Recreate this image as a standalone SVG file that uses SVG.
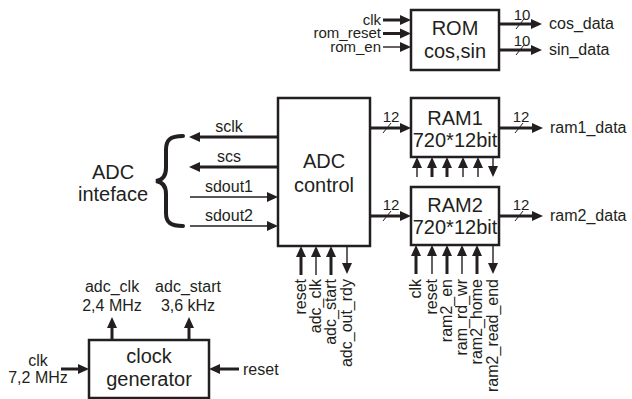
<svg xmlns="http://www.w3.org/2000/svg" width="632" height="399" viewBox="0 0 632 399">
<style>
text{font-family:"Liberation Sans",Arial,sans-serif;fill:#231f20}
.big{font-size:20px;text-anchor:middle}
.lbl{font-size:16px}
.sm{font-size:15px}
.mid{text-anchor:middle}
.end{text-anchor:end}
.bus{font-size:15px;text-anchor:middle}
.box{fill:#fff;stroke:#231f20;stroke-width:2.5}
.thick{stroke:#231f20;stroke-width:3;fill:none}
.thin{stroke:#231f20;stroke-width:1.4;fill:none}
.sl{stroke:#231f20;stroke-width:1;fill:none}
</style>
<defs>
<marker id="ah" markerUnits="userSpaceOnUse" markerWidth="11" markerHeight="11" refX="5" refY="5" orient="auto" viewBox="0 0 11 10">
<path d="M0,0 L11,5 L0,10 z" fill="#231f20"/>
</marker>
</defs>

<g id="rom">
<rect class="box" x="411" y="10" width="88" height="60"/>
<text class="big" x="455" y="35">ROM</text>
<text class="big" x="455" y="58">cos,sin</text>
</g>

<g id="adc">
<rect class="box" x="278" y="98" width="92" height="148"/>
<text class="big" x="324" y="168">ADC</text>
<text class="big" x="324" y="192">control</text>
</g>

<g id="ram1">
<rect class="box" x="411" y="98" width="88" height="59"/>
<text class="big" x="455" y="125">RAM1</text>
<text class="big" x="455" y="147">720*12bit</text>
</g>

<g id="ram2">
<rect class="box" x="411" y="187" width="88" height="58"/>
<text class="big" x="455" y="212">RAM2</text>
<text class="big" x="455" y="234">720*12bit</text>
</g>

<g id="clockgen">
<rect class="box" x="89" y="340" width="120" height="58"/>
<text class="big" x="149" y="363">clock</text>
<text class="big" x="149" y="386">generator</text>
</g>

<g id="adc-interface">
<text class="big" x="113" y="179">ADC</text>
<text class="big" x="113" y="201">inteface</text>
<path d="M183,136 C170,136 166,140 166,150 L166,168 C166,176 163,180 156,181 C163,182 166,186 166,194 L166,213 C166,222 170,226 183,226" fill="none" stroke="#231f20" stroke-width="4" stroke-linecap="round"/>
</g>

<g id="connectors">
<!-- ROM inputs -->
<line class="thick" x1="383" y1="20" x2="405" y2="20" marker-end="url(#ah)"/>
<line class="thick" x1="383" y1="33.5" x2="405" y2="33.5" marker-end="url(#ah)"/>
<line class="thin" x1="383" y1="47" x2="405" y2="47" marker-end="url(#ah)"/>
<!-- ROM outputs -->
<line class="thick" x1="499" y1="24" x2="536" y2="24" marker-end="url(#ah)"/>
<line class="sl" x1="516" y1="29" x2="524" y2="19"/>
<line class="thick" x1="499" y1="50" x2="536" y2="50" marker-end="url(#ah)"/>
<line class="sl" x1="516" y1="55" x2="524" y2="45"/>
<!-- ADC interface -->
<line class="thick" x1="278" y1="137" x2="195" y2="137" marker-end="url(#ah)"/>
<line class="thick" x1="278" y1="167" x2="195" y2="167" marker-end="url(#ah)"/>
<line class="thin" x1="190" y1="197" x2="272" y2="197" marker-end="url(#ah)"/>
<line class="thin" x1="190" y1="226" x2="272" y2="226" marker-end="url(#ah)"/>
<!-- ADC to RAM -->
<line class="thick" x1="370" y1="128" x2="405" y2="128" marker-end="url(#ah)"/>
<line class="sl" x1="383" y1="133" x2="391" y2="123"/>
<line class="thick" x1="370" y1="216" x2="405" y2="216" marker-end="url(#ah)"/>
<line class="sl" x1="383" y1="221" x2="391" y2="211"/>
<!-- RAM outputs -->
<line class="thick" x1="499" y1="128" x2="537" y2="128" marker-end="url(#ah)"/>
<line class="sl" x1="515" y1="133" x2="523" y2="123"/>
<line class="thick" x1="499" y1="216" x2="537" y2="216" marker-end="url(#ah)"/>
<line class="sl" x1="515" y1="221" x2="523" y2="211"/>
<!-- RAM1 bottom -->
<line class="thin" x1="417" y1="177" x2="417" y2="163" marker-end="url(#ah)"/>
<line class="thick" x1="432" y1="177" x2="432" y2="163" marker-end="url(#ah)"/>
<line class="thick" x1="447" y1="177" x2="447" y2="163" marker-end="url(#ah)"/>
<line class="thin" x1="463" y1="177" x2="463" y2="163" marker-end="url(#ah)"/>
<line class="thin" x1="478" y1="177" x2="478" y2="163" marker-end="url(#ah)"/>
<line class="thin" x1="493" y1="157" x2="493" y2="171" marker-end="url(#ah)"/>
<!-- RAM2 bottom -->
<line class="thick" x1="416" y1="274" x2="416" y2="251" marker-end="url(#ah)"/>
<line class="thin" x1="432" y1="274" x2="432" y2="251" marker-end="url(#ah)"/>
<line class="thick" x1="447" y1="274" x2="447" y2="251" marker-end="url(#ah)"/>
<line class="thin" x1="462" y1="274" x2="462" y2="251" marker-end="url(#ah)"/>
<line class="thick" x1="477" y1="274" x2="477" y2="251" marker-end="url(#ah)"/>
<line class="thin" x1="493" y1="245" x2="493" y2="268" marker-end="url(#ah)"/>
<!-- ADC bottom -->
<line class="thick" x1="301" y1="275" x2="301" y2="252" marker-end="url(#ah)"/>
<line class="thin" x1="316" y1="275" x2="316" y2="252" marker-end="url(#ah)"/>
<line class="thick" x1="331" y1="275" x2="331" y2="252" marker-end="url(#ah)"/>
<line class="thin" x1="347" y1="246" x2="347" y2="268" marker-end="url(#ah)"/>
<!-- clock generator -->
<line class="thick" x1="112" y1="340" x2="112" y2="323" marker-end="url(#ah)"/>
<line class="thick" x1="189" y1="340" x2="189" y2="323" marker-end="url(#ah)"/>
<line class="thick" x1="61" y1="369" x2="83" y2="369" marker-end="url(#ah)"/>
<line class="thick" x1="239" y1="369" x2="215" y2="369" marker-end="url(#ah)"/>
</g>

<g id="labels">
<text class="sm end" x="381" y="24.5">clk</text>
<text class="sm end" x="381" y="38">rom_reset</text>
<text class="sm end" x="381" y="51.5">rom_en</text>
<text class="bus" x="522" y="20">10</text>
<text class="bus" x="522" y="46">10</text>
<text class="lbl" x="549" y="29">cos_data</text>
<text class="lbl" x="549" y="55">sin_data</text>
<text class="lbl mid" x="229" y="132">sclk</text>
<text class="lbl mid" x="229" y="162">scs</text>
<text class="lbl mid" x="229" y="192">sdout1</text>
<text class="lbl mid" x="229" y="221">sdout2</text>
<text class="bus" x="391" y="122">12</text>
<text class="bus" x="391" y="210">12</text>
<text class="bus" x="521" y="122">12</text>
<text class="bus" x="521" y="210">12</text>
<text class="lbl" x="550" y="133">ram1_data</text>
<text class="lbl" x="550" y="221">ram2_data</text>
<text class="lbl end" transform="translate(306,279) rotate(-90)">reset</text>
<text class="lbl end" transform="translate(321,279) rotate(-90)">adc_clk</text>
<text class="lbl end" transform="translate(336,279) rotate(-90)">adc_start</text>
<text class="lbl end" transform="translate(352,279) rotate(-90)">adc_out_rdy</text>
<text class="lbl end" transform="translate(421,279) rotate(-90)">clk</text>
<text class="lbl end" transform="translate(437,279) rotate(-90)">reset</text>
<text class="lbl end" transform="translate(452,279) rotate(-90)">ram2_en</text>
<text class="lbl end" transform="translate(467,279) rotate(-90)">ram_rd_wr</text>
<text class="lbl end" transform="translate(482,279) rotate(-90)">ram2_home</text>
<text class="lbl end" transform="translate(498,279) rotate(-90)">ram2_read_end</text>
<text class="lbl mid" x="112" y="292">adc_clk</text>
<text class="lbl mid" x="112" y="311">2,4 MHz</text>
<text class="lbl mid" x="188" y="292">adc_start</text>
<text class="lbl mid" x="188" y="311">3,6 kHz</text>
<text class="lbl mid" x="38" y="366">clk</text>
<text class="lbl mid" x="38" y="383">7,2 MHz</text>
<text class="lbl" x="243" y="375">reset</text>
</g>
</svg>
